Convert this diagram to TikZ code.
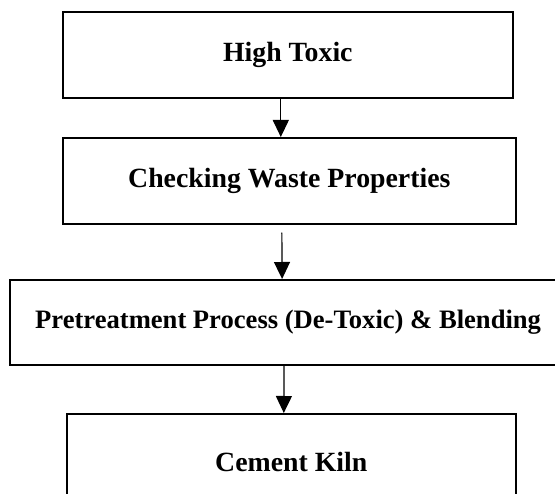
\documentclass[tikz,border=0pt]{standalone}
\usepackage{fontspec}
\setmainfont{Liberation Serif}
\usetikzlibrary{arrows.meta}
\begin{document}
\begin{tikzpicture}[x=1pt,y=-1pt,
  box/.style={draw=black,line width=1.6pt,rectangle,inner sep=0pt,anchor=north west,
    font=\fontsize{27.8}{30}\selectfont\bfseries},
  arr/.style={draw=black,line width=1.2pt,-{Triangle[length=17pt,width=16pt]}}]
\clip (0,0) rectangle (555,494);
\fill[white] (0,0) rectangle (555,494);
\node[box,minimum width=450pt,minimum height=86pt] (b1) at (62,11) {High Toxic};
\node[box,minimum width=453pt,minimum height=86pt] (b2) at (62,137) {Checking Waste Properties};
\node[box,minimum width=556pt,minimum height=85pt,font=\fontsize{26.6}{30}\selectfont\bfseries] (b3) at (9.3,279) {Pretreatment Process (De-Toxic) \& Blending};
\node[box,minimum width=449pt,minimum height=96pt] (b4) at (66,413) {Cement Kiln};
\draw[arr] ([xshift=-7pt]b1.south) -- ([xshift=-8.5pt]b2.north);
\draw[arr,shorten <=8pt] ([xshift=-7.5pt]b2.south) -- ([xshift=-6pt]b3.north);
\draw[arr] ([xshift=-4pt]b3.south) -- ([xshift=-7.5pt]b4.north);
\end{tikzpicture}
\end{document}
